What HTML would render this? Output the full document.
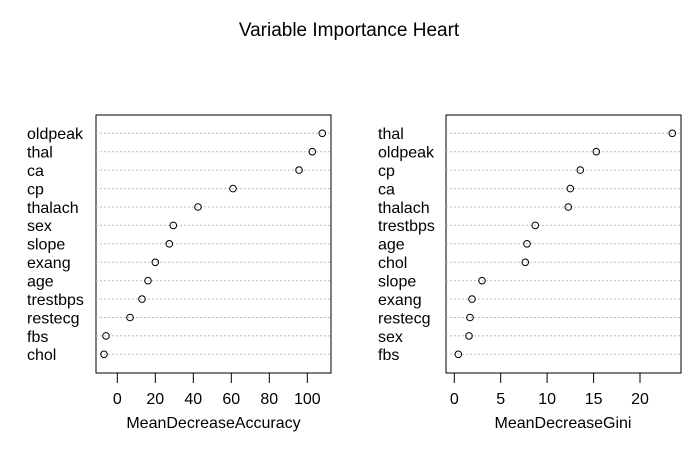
<!DOCTYPE html>
<html><head><style>body{margin:0;background:#fff}</style></head><body>
<svg width="700" height="450" xmlns="http://www.w3.org/2000/svg" font-family="Liberation Sans, Arial, sans-serif">
<rect width="700" height="450" fill="#fff"/>
<text x="349" y="36" font-size="19" text-anchor="middle">Variable Importance Heart</text>
<g id="L">
<rect x="96" y="115" width="235" height="258" fill="none" stroke="#000"/>
<g stroke="#bbb" stroke-dasharray="2,2">
<line x1="96" x2="331" y1="133.3" y2="133.3"/><line x1="96" x2="331" y1="151.7" y2="151.7"/><line x1="96" x2="331" y1="170.1" y2="170.1"/><line x1="96" x2="331" y1="188.6" y2="188.6"/><line x1="96" x2="331" y1="207" y2="207"/><line x1="96" x2="331" y1="225.4" y2="225.4"/><line x1="96" x2="331" y1="243.8" y2="243.8"/><line x1="96" x2="331" y1="262.3" y2="262.3"/><line x1="96" x2="331" y1="280.7" y2="280.7"/><line x1="96" x2="331" y1="299.1" y2="299.1"/><line x1="96" x2="331" y1="317.5" y2="317.5"/><line x1="96" x2="331" y1="335.9" y2="335.9"/><line x1="96" x2="331" y1="354.3" y2="354.3"/>
</g>
<g fill="none" stroke="#000">
<circle cx="322.3" cy="133.3" r="3.3"/><circle cx="312.3" cy="151.7" r="3.3"/><circle cx="299" cy="170.1" r="3.3"/><circle cx="233" cy="188.6" r="3.3"/><circle cx="198" cy="207" r="3.3"/><circle cx="173.3" cy="225.4" r="3.3"/><circle cx="169.3" cy="243.8" r="3.3"/><circle cx="155.3" cy="262.3" r="3.3"/><circle cx="148" cy="280.7" r="3.3"/><circle cx="142" cy="299.1" r="3.3"/><circle cx="130" cy="317.5" r="3.3"/><circle cx="106" cy="335.9" r="3.3"/><circle cx="104" cy="354.3" r="3.3"/>
<path d="M117.3 373v10M155.3 373v10M193.3 373v10M231.3 373v10M269.3 373v10M307.3 373v10"/>
</g>
<g font-size="16">
<text x="27" y="139">oldpeak</text><text x="27" y="157.5">thal</text><text x="27" y="176">ca</text><text x="27" y="194.5">cp</text><text x="27" y="213">thalach</text><text x="27" y="231">sex</text><text x="27" y="249.5">slope</text><text x="27" y="268">exang</text><text x="27" y="286.5">age</text><text x="27" y="305">trestbps</text><text x="27" y="323.5">restecg</text><text x="27" y="342">fbs</text><text x="27" y="360">chol</text>
<g text-anchor="middle"><text x="117.3" y="404">0</text><text x="155.3" y="404">20</text><text x="193.3" y="404">40</text><text x="231.3" y="404">60</text><text x="269.3" y="404">80</text><text x="307.3" y="404">100</text>
<text x="213.5" y="428">MeanDecreaseAccuracy</text></g>
</g>
</g>
<g>
<rect x="446" y="115" width="235" height="258" fill="none" stroke="#000"/>
<g stroke="#bbb" stroke-dasharray="2,2">
<line x1="446" x2="681" y1="133.3" y2="133.3"/><line x1="446" x2="681" y1="151.7" y2="151.7"/><line x1="446" x2="681" y1="170.1" y2="170.1"/><line x1="446" x2="681" y1="188.6" y2="188.6"/><line x1="446" x2="681" y1="207" y2="207"/><line x1="446" x2="681" y1="225.4" y2="225.4"/><line x1="446" x2="681" y1="243.8" y2="243.8"/><line x1="446" x2="681" y1="262.3" y2="262.3"/><line x1="446" x2="681" y1="280.7" y2="280.7"/><line x1="446" x2="681" y1="299.1" y2="299.1"/><line x1="446" x2="681" y1="317.5" y2="317.5"/><line x1="446" x2="681" y1="335.9" y2="335.9"/><line x1="446" x2="681" y1="354.3" y2="354.3"/>
</g>
<g fill="none" stroke="#000">
<circle cx="672.3" cy="133.3" r="3.3"/><circle cx="596.3" cy="151.7" r="3.3"/><circle cx="580.3" cy="170.1" r="3.3"/><circle cx="570.3" cy="188.6" r="3.3"/><circle cx="568.3" cy="207" r="3.3"/><circle cx="535.3" cy="225.4" r="3.3"/><circle cx="527" cy="243.8" r="3.3"/><circle cx="525.3" cy="262.3" r="3.3"/><circle cx="482" cy="280.7" r="3.3"/><circle cx="472" cy="299.1" r="3.3"/><circle cx="470" cy="317.5" r="3.3"/><circle cx="469" cy="335.9" r="3.3"/><circle cx="458.3" cy="354.3" r="3.3"/>
<path d="M454.3 373v10M500.7 373v10M547.1 373v10M593.6 373v10M640 373v10"/>
</g>
<g font-size="16">
<text x="378" y="139">thal</text><text x="378" y="157.5">oldpeak</text><text x="378" y="176">cp</text><text x="378" y="194.5">ca</text><text x="378" y="213">thalach</text><text x="378" y="231">trestbps</text><text x="378" y="249.5">age</text><text x="378" y="268">chol</text><text x="378" y="286.5">slope</text><text x="378" y="305">exang</text><text x="378" y="323.5">restecg</text><text x="378" y="342">sex</text><text x="378" y="360">fbs</text>
<g text-anchor="middle"><text x="454.3" y="404">0</text><text x="500.7" y="404">5</text><text x="547.1" y="404">10</text><text x="593.6" y="404">15</text><text x="640" y="404">20</text>
<text x="563" y="428">MeanDecreaseGini</text></g>
</g>
</g>
</svg>
</body></html>
